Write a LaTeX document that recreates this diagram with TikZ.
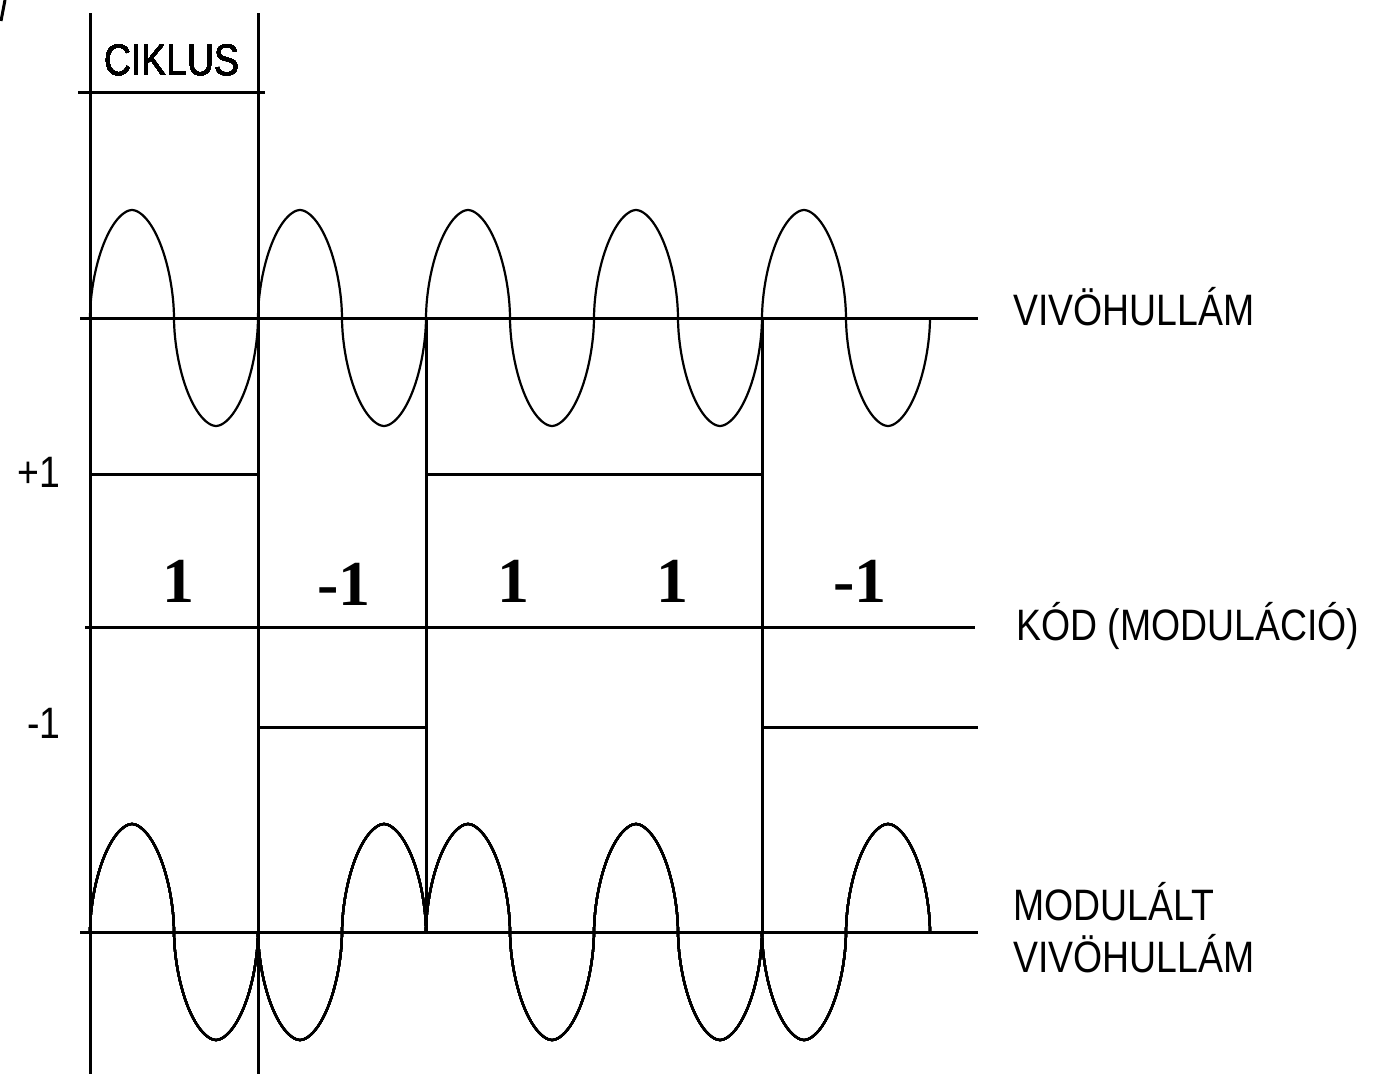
\documentclass[tikz,border=0pt]{standalone}
\usepackage{fontspec}
\setmainfont{Liberation Serif}
\newfontfamily\lblfont[FakeStretch=0.85]{Liberation Sans}
\usetikzlibrary{positioning}
\tikzset{
  axisline/.style = {line width=3pt},
  waveline/.style = {line width=2.2pt, line join=round},
  lbltext/.style  = {font=\lblfont\fontsize{44}{52}\selectfont, inner sep=0pt},
  bittext/.style  = {font=\fontsize{64}{64}\selectfont\bfseries, inner sep=0pt, anchor=base}
}
% half a cycle of the wave: start x, axis y, +1 up / -1 down
\newcommand{\wavehump}[3]{%
  \draw[waveline] plot[domain=0.001:179.999, samples=60]
    ({#1+42-42*sign(cos(\x))*abs(cos(\x))^1.111}, {#2-(#3)*108*abs(sin(\x))^1.111});}

\begin{document}
\begin{tikzpicture}[x=1pt, y=-1pt]
  \useasboundingbox (0,0) rectangle (1394,1074);
  % ---- corner mark ----
  \draw[axisline] (1,21) -- (5,0);
  % ---- vertical lines ----
  \draw[axisline] (90,13)  -- (90,1074);
  \draw[axisline] (258,13) -- (258,1074);
  \draw[axisline] (426,318) -- (426,932);
  \draw[axisline] (762,318) -- (762,932);
  % ---- horizontal lines ----
  \draw[axisline] (78,92)  -- (265,92);
  \draw[axisline] (80,318) -- (978,318);
  \draw[axisline] (85,627) -- (975,627);
  \draw[axisline] (80,932) -- (978,932);
  % code levels +1 / -1
  \draw[axisline] (90,474)  -- (258,474);
  \draw[axisline] (426,474) -- (762,474);
  \draw[axisline] (258,727) -- (426,727);
  \draw[axisline] (762,727) -- (978,727);
  % ---- carrier wave ----
  \foreach \s [count=\h from 0] in {1,-1,1,-1,1,-1,1,-1,1,-1}
    \wavehump{90+84*\h}{318}{\s}
  % ---- modulated carrier ----
  \foreach \s [count=\h from 0] in {1,-1,-1,1,1,-1,1,-1,-1,1}
    \wavehump{90+84*\h}{932}{\s}
  % ---- labels ----
  \node[lbltext, anchor=base] (ciklus) at (172,75) {CIKLUS};
  \node[lbltext, anchor=base] (plusone) at (39,487) {+1};
  \node[lbltext, anchor=base] (minusone) at (44,738) {-1};
  \node[lbltext, anchor=base west] (vivo) at (1013,325) {VIVÖHULLÁM};
  \node[lbltext, anchor=base west] (kod) at (1016,640) {KÓD (MODULÁCIÓ)};
  \node[lbltext, anchor=base west] (modlbla) at (1013,920) {MODULÁLT};
  \node[lbltext, anchor=base west] (modlblb) at (1013,972) {VIVÖHULLÁM};
  % ---- code bits ----
  \node[bittext] (bita) at (178,602) {1};
  \node[bittext] (bitb) at (344,605) {-1};
  \node[bittext] (bitc) at (513,602) {1};
  \node[bittext] (bitd) at (672,602) {1};
  \node[bittext] (bite) at (860,602) {-1};
\end{tikzpicture}
\end{document}
